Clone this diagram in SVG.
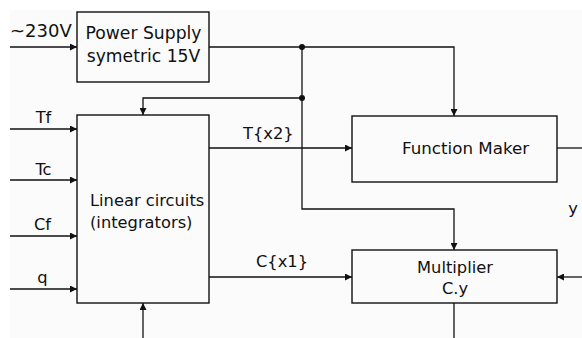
<svg xmlns="http://www.w3.org/2000/svg" width="582" height="338" viewBox="0 0 582 338">
<defs>
<marker id="ah" viewBox="0 0 10 10" refX="10" refY="5" markerWidth="8" markerHeight="7" markerUnits="userSpaceOnUse" orient="auto">
<path d="M0,0 L10,5 L0,10 Z" fill="#111"/>
</marker>
</defs>
<style>
.box{fill:none;stroke:#111;stroke-width:1.4}
.ln{fill:none;stroke:#111;stroke-width:1.3}
.ar{marker-end:url(#ah)}
text{font-family:"DejaVu Sans",sans-serif;font-size:16.3px;fill:#111}
.dot{fill:#111}
</style>
<rect x="0" y="0" width="582" height="338" fill="#ffffff"/>
<rect x="10" y="10" width="572" height="328" fill="#fbfbfb"/>
<g id="connectors">
<line class="ln ar" x1="10" y1="47" x2="77" y2="47"/>
<polyline class="ln ar" points="209,47 454,47 454,116"/>
<polyline class="ln ar" points="302,47 302,209 454,209 454,250"/>
<polyline class="ln ar" points="302,98 143,98 143,115"/>
<line class="ln ar" x1="10" y1="129" x2="77" y2="129"/>
<line class="ln ar" x1="10" y1="180" x2="77" y2="180"/>
<line class="ln ar" x1="10" y1="236" x2="77" y2="236"/>
<line class="ln ar" x1="10" y1="289" x2="77" y2="289"/>
<line class="ln ar" x1="209" y1="148" x2="352" y2="148"/>
<line class="ln ar" x1="209" y1="277" x2="352" y2="277"/>
<line class="ln" x1="557" y1="148" x2="582" y2="148"/>
<line class="ln ar" x1="143" y1="338" x2="143" y2="303"/>
<line class="ln" x1="454" y1="303" x2="454" y2="338"/>
<line class="ln ar" x1="582" y1="277" x2="557" y2="277"/>
<circle class="dot" cx="302" cy="47" r="3"/>
<circle class="dot" cx="302" cy="98" r="3"/>
<text x="10" y="37" style="font-size:18px">~230V</text>
<text x="43.5" y="123" text-anchor="middle">Tf</text>
<text x="43.5" y="175" text-anchor="middle">Tc</text>
<text x="42.5" y="230" text-anchor="middle">Cf</text>
<text x="42.5" y="283" text-anchor="middle">q</text>
<text x="243" y="139">T{x2}</text>
<text x="256" y="267">C{x1}</text>
<text x="573" y="213.5" text-anchor="middle">y</text>
</g>
<g id="power-supply">
<rect class="box" x="77" y="12" width="132" height="70"/>
<text x="143.5" y="39" text-anchor="middle" style="font-size:17.2px">Power Supply</text>
<text x="143.5" y="62" text-anchor="middle" style="font-size:17.2px">symetric 15V</text>
</g>
<g id="linear-circuits">
<rect class="box" x="77" y="115" width="132" height="188"/>
<text x="90" y="206">Linear circuits</text>
<text x="90" y="228">(integrators)</text>
</g>
<g id="function-maker">
<rect class="box" x="352" y="116" width="205" height="66"/>
<text x="402" y="154" style="font-size:16.7px">Function Maker</text>
</g>
<g id="multiplier">
<rect class="box" x="352" y="250" width="205" height="53"/>
<text x="455" y="273" text-anchor="middle">Multiplier</text>
<text x="455" y="294" text-anchor="middle">C.y</text>
</g>
</svg>
